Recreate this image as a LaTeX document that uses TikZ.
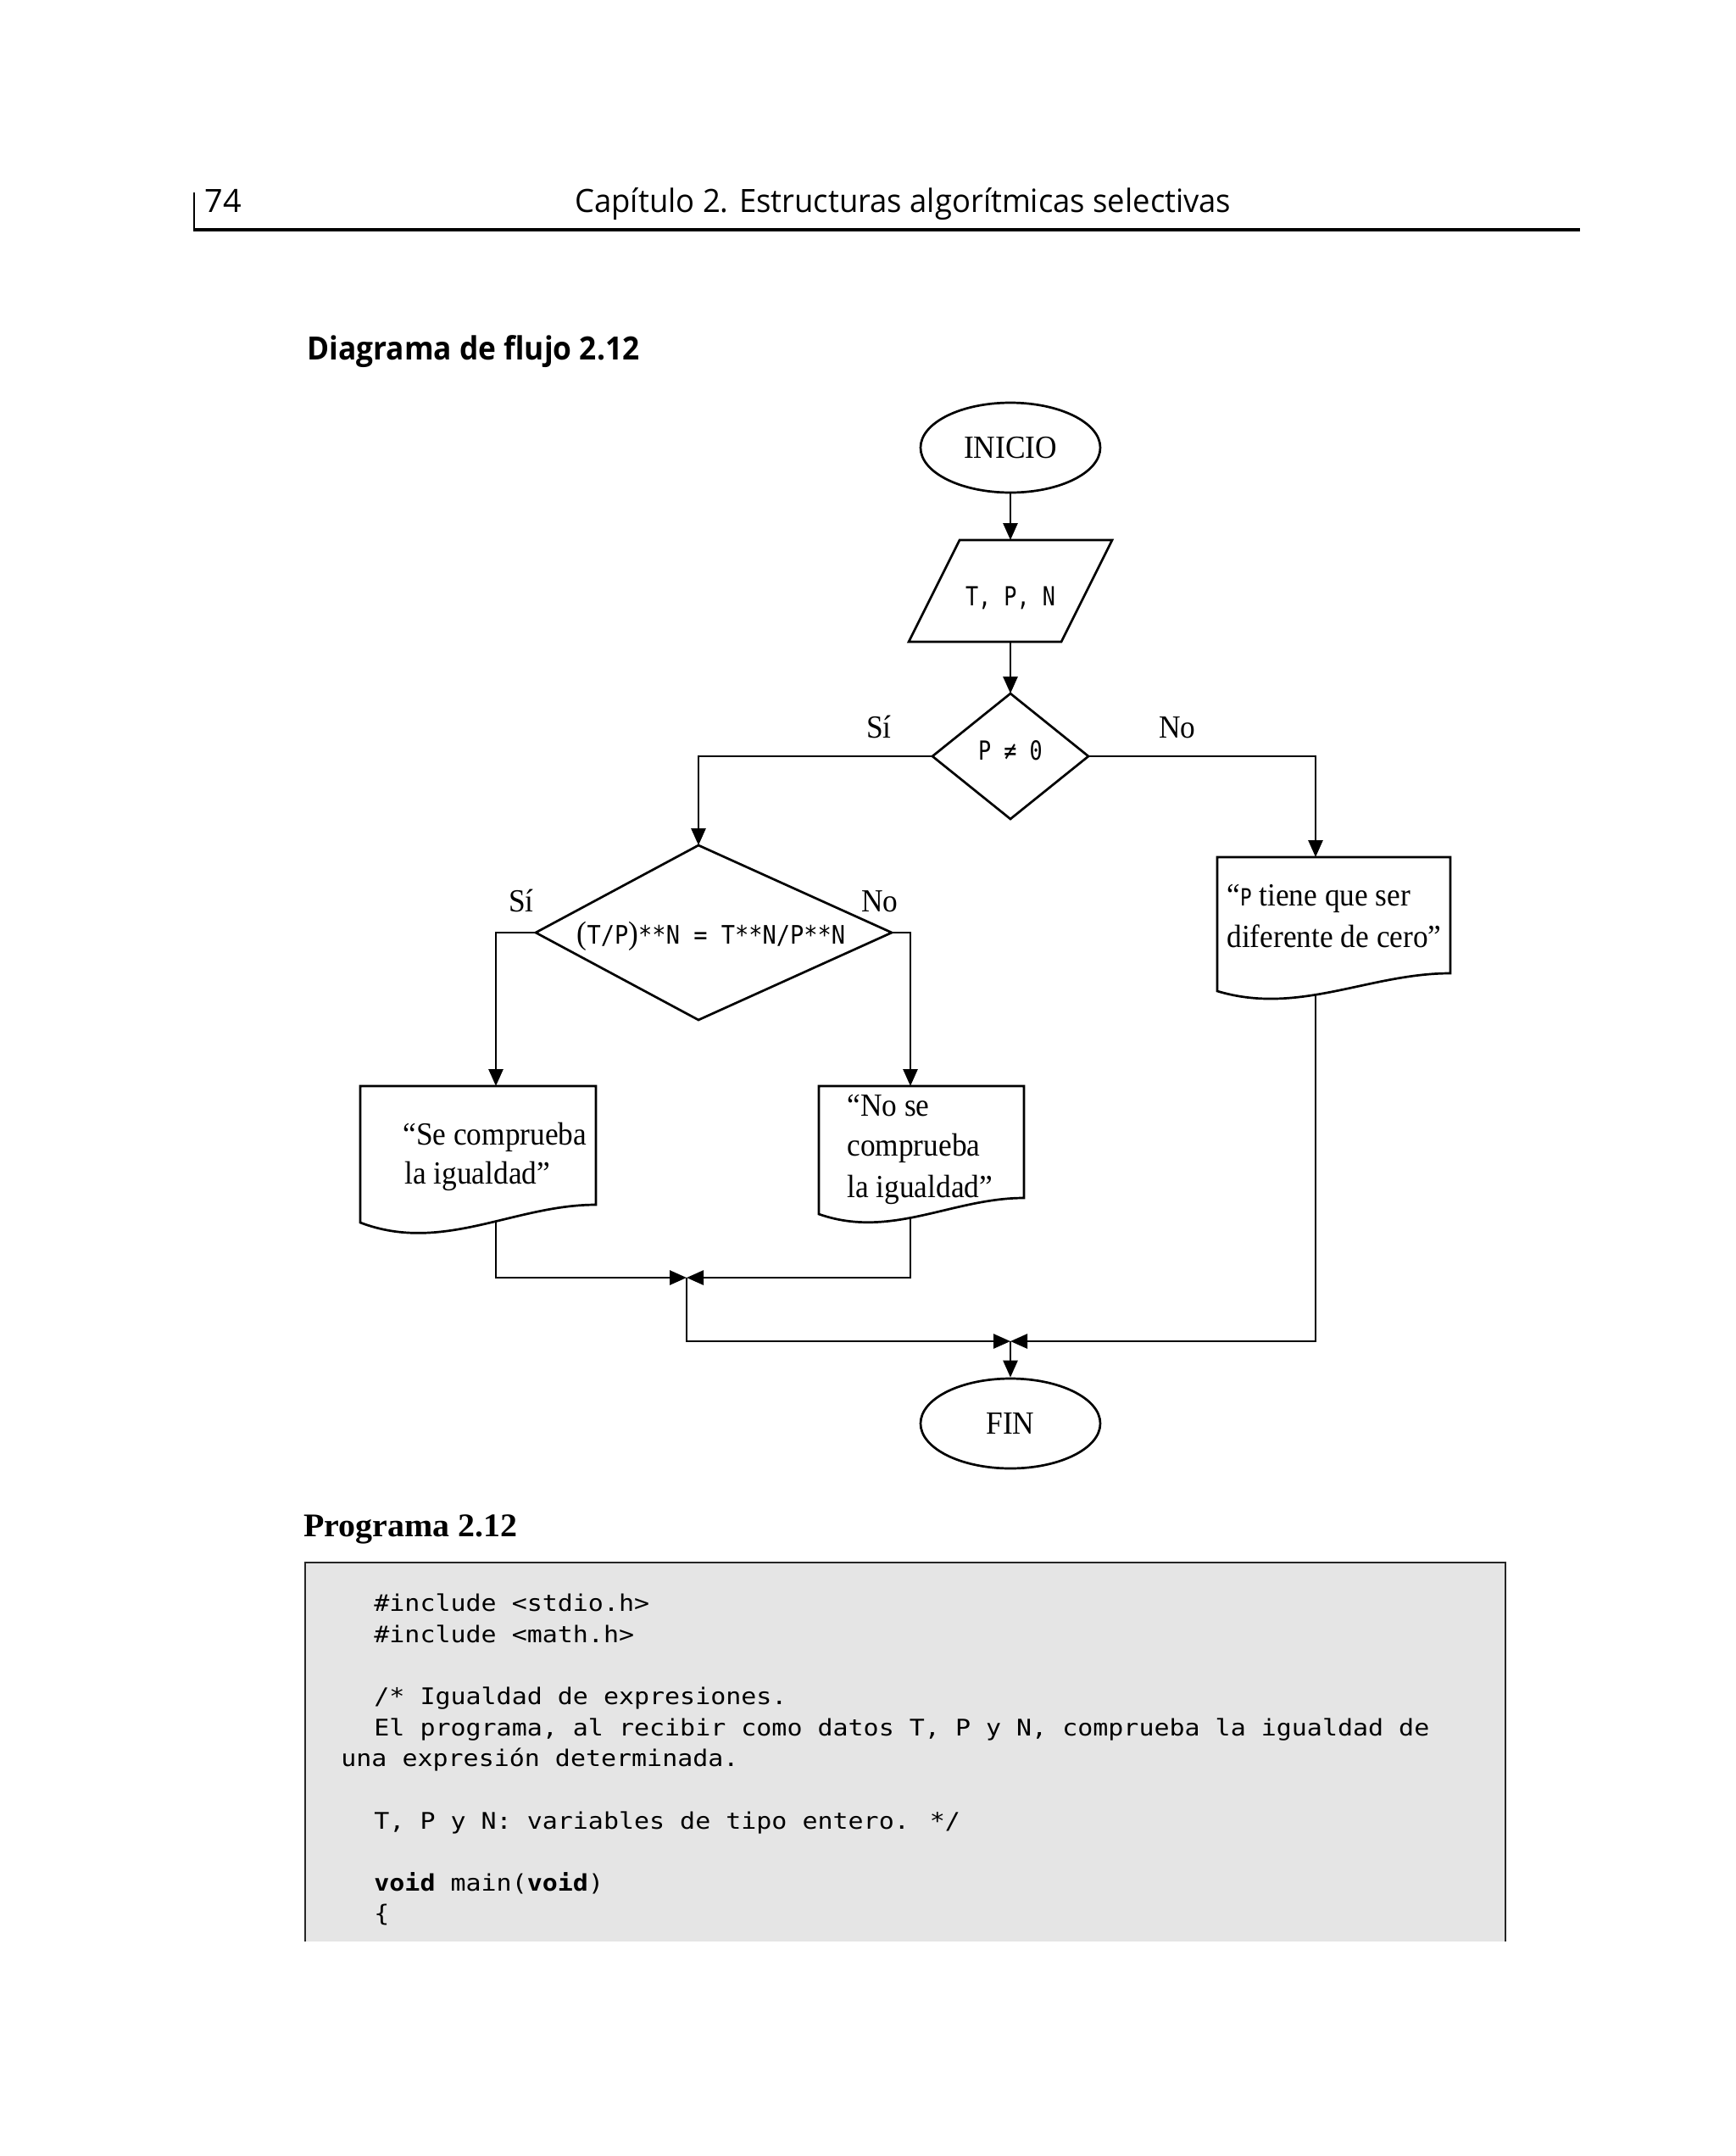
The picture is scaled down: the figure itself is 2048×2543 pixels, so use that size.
\documentclass[tikz,border=0pt]{standalone}
\usepackage{fontspec}
\usepackage{graphicx}
\setmainfont[FakeStretch=0.93]{Liberation Serif}
\newfontfamily\plainserif{Liberation Serif}
\newfontfamily\hdrfont{Open Sans}
\newfontfamily\fcmono[FakeStretch=0.81]{DejaVu Sans Mono}
\newfontfamily\eqmono[FakeStretch=0.9]{DejaVu Sans Mono}
\newfontfamily\codemono[FakeStretch=1.11]{DejaVu Sans Mono}
\usetikzlibrary{arrows.meta,shapes.geometric}
\pgfdeclarelayer{bg}
\pgfsetlayers{bg,main}
\newsavebox\fitbox
\newcommand\fitw[2]{\sbox\fitbox{#2}\pgfmathsetmacro\fitsc{#1/\wd\fitbox}\scalebox{\fitsc}[1]{\usebox\fitbox}}
\begin{document}
\begin{tikzpicture}[x=0.5pt,y=-0.5pt,
  ln/.style={line width=1.35pt},
  arr/.style={ln,-{Triangle[length=10pt,width=8.5pt]}},
  term/.style={draw, ln, ellipse, minimum width=106pt, minimum height=53pt, inner sep=0pt, font=\fontsize{19}{23}\selectfont},
  shapeln/.style={draw, ln, fill=white},
  txt/.style={inner sep=0pt, anchor=base west, font=\fontsize{19}{23}\selectfont},
  lbl/.style={inner sep=0pt, anchor=base, font=\fontsize{19}{23}\selectfont},
  mono/.style={inner sep=0pt, anchor=base, font=\fcmono\fontsize{15.5}{18}\selectfont},
  code/.style={inner sep=0pt, anchor=base west, font=\codemono\fontsize{13.5}{16}\selectfont},
  hdr/.style={inner sep=0pt, anchor=base west, font=\hdrfont\fontsize{18.9}{22}\selectfont},
  hdrb/.style={inner sep=0pt, anchor=base west, font=\hdrfont\bfseries\fontsize{18.9}{22}\selectfont},
]
\begin{pgfonlayer}{bg}
\fill[white] (0,0) rectangle (2048,2543);
\end{pgfonlayer}
\useasboundingbox (0,0) rectangle (2048,2543);

% ---- page header ----
\draw[line width=1pt] (229,227) -- (229,271);
\draw[line width=2.2pt] (228,271) -- (1864,271);
\node[hdr] (pagenum) at (241,250) {74};
\node[hdr] (chapter) at (678,250) {\fitw{387}{Capítulo 2. Estructuras algorítmicas selectivas}};
\node[hdrb] (dtitle) at (362,424) {\fitw{196}{Diagrama de flujo 2.12}};

% ---- flowchart ----
\node[term] (ini) at (1192,528) {INICIO};

\coordinate (pT) at (1192,637);
\coordinate (pB) at (1192,757);
\draw[shapeln] (1132,637) -- (1312,637) -- (1252,757) -- (1072,757) -- cycle;
\node[mono] (rd) at (1192,714) {T, P, N};
\draw[arr] (ini) -- (pT);

\coordinate (d1t) at (1192,818);
\coordinate (d1l) at (1100,892);
\coordinate (d1r) at (1284,892);
\coordinate (d1b) at (1192,966);
\draw[shapeln] (d1t) -- (d1r) -- (d1b) -- (d1l) -- cycle;
\node[mono] (c1) at (1192,896) {P ≠ 0};
\draw[arr] (pB) -- (d1t);
\node[lbl] (si1) at (1037,870) {Sí};
\node[lbl] (no1) at (1389,870) {No};

\coordinate (d2t) at (824,997);
\coordinate (d2l) at (632,1100);
\coordinate (d2r) at (1052,1100);
\coordinate (d2b) at (824,1203);
\draw[shapeln] (d2t) -- (d2r) -- (d2b) -- (d2l) -- cycle;
\node[lbl] (c2) at (839,1113) {(\eqmono\fontsize{15}{18}\selectfont T/P\normalfont\fontsize{19}{23}\selectfont)\eqmono\fontsize{15}{18}\selectfont **N = T**N/P**N};
\node[lbl] (si2) at (615,1075) {Sí};
\node[lbl] (no2) at (1038,1075) {No};

\coordinate (aT) at (585,1281);
\coordinate (bT) at (1074,1281);
\coordinate (cT) at (1552,1011);
\draw[arr] (d1l) -| (d2t);
\draw[arr] (d1r) -| (cT);
\draw[arr] (d2l) -| (aT);
\draw[arr] (d2r) -| (bT);

% output documents
\draw[shapeln] (425,1442) -- (425,1281) -- (703,1281) -- (703,1421) .. controls (606,1421) and (522,1479) .. (425,1442) -- cycle;
\node[txt] (a1) at (475,1350) {“Se comprueba};
\node[txt] (a2) at (477,1396) {la igualdad”};

\draw[shapeln] (966,1432) -- (966,1281) -- (1208,1281) -- (1208,1413) .. controls (1123,1413) and (1051,1462) .. (966,1432) -- cycle;
\node[txt] (b1) at (999,1316) {“No se};
\node[txt] (b2) at (999,1363) {comprueba};
\node[txt] (b3) at (999,1412) {la igualdad”};

\draw[shapeln] (1436,1169) -- (1436,1011) -- (1711,1011) -- (1711,1148) .. controls (1615,1148) and (1532,1198) .. (1436,1169) -- cycle;
\node[txt] (c1a) at (1447,1068) {“{\fcmono\fontsize{14}{17}\selectfont P} tiene que ser};
\node[txt] (c1b) at (1447,1117) {diferente de cero”};

% joins
\coordinate (aX) at (585,1400);
\coordinate (bX) at (1074,1400);
\coordinate (cX) at (1552,1120);
\coordinate (J1) at (810,1507);
\coordinate (J2) at (1192,1582);
\begin{pgfonlayer}{bg}
\draw[arr] (aX) |- (J1);
\draw[arr] (bX) |- (J1);
\draw[arr] (cX) |- (J2);
\end{pgfonlayer}
\draw[arr] (J1) |- (J2);
\node[term] (fin) at (1192,1679) {FIN};
\draw[arr] (J2) -- (fin);

% ---- program ----
\node[inner sep=0pt, anchor=base west, font=\plainserif\bfseries\fontsize{19.5}{23}\selectfont] (ptitle) at (358,1812) {\fitw{126}{Programa 2.12}};
\fill[black!10] (360,1843) rectangle (1776,2290);
\draw[line width=1pt, black!85] (360,2290) -- (360,1843) -- (1776,1843) -- (1776,2290);
\draw[line width=1.4pt, black!85] (360,1843) -- (1776,1843);
\node[code] (l1) at (441,1900) {\#include <stdio.h>};
\node[code] (l2) at (441,1937) {\#include <math.h>};
\node[code] (l3) at (441,2010) {/* Igualdad de expresiones.};
\node[code] (l4) at (441,2047) {El programa, al recibir como datos T, P y N, comprueba la igualdad de};
\node[code] (l5) at (402,2083) {una expresión determinada.};
\node[code] (l6) at (441,2157) {T, P y N: variables de tipo entero. */};
\node[code] (l7) at (441,2230) {\textbf{void} main(\textbf{void})};
\node[code] (l8) at (441,2266) {\{};
\end{tikzpicture}
\end{document}
